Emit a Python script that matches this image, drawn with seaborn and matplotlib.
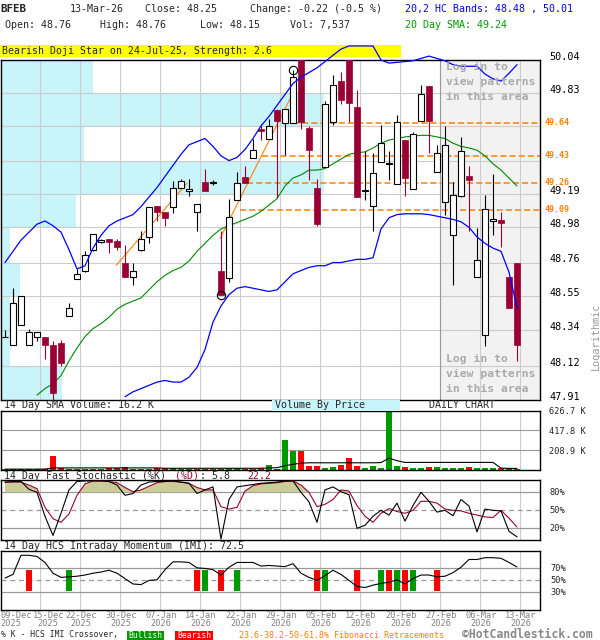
import numpy as np
import pandas as pd
import matplotlib
matplotlib.use("Agg")
import matplotlib.pyplot as plt
import matplotlib.transforms as mtransforms
from matplotlib.patches import Rectangle
from matplotlib.ticker import FixedLocator, NullLocator
import seaborn as sns

# ------------------------------------------------------------------ data
holidays = ["2025-12-25", "2026-01-01", "2026-01-19", "2026-02-16"]
dates = pd.bdate_range("2025-12-09", "2026-03-13", freq="C", holidays=holidays)

opens = [48.295, 48.25, 48.37, 48.25, 48.30, 48.30, 48.25, 48.26, 48.43, 48.66,
         48.71, 48.84, 48.89, 48.906, 48.895, 48.76, 48.67, 48.84, 48.92, 49.113,
         49.075, 49.105, 49.226, 49.21, 49.079, 49.263, 49.26, 48.706, 48.662, 49.152,
         49.294, 49.418, 49.601, 49.539, 49.72, 49.638, 49.638, 50.06, 49.606, 49.226,
         49.361, 49.647, 49.908, 50.06, 49.737, 49.21, 49.111, 49.393, 49.38, 49.253,
         49.533, 49.221, 49.65, 49.877, 49.33, 49.138, 48.933, 49.18, 49.305, 48.672,
         48.307, 49.02, 49.025, 48.672, 48.76]
highs = [48.34, 48.60, 48.55, 48.35, 48.33, 48.30, 48.27, 48.28, 48.51, 48.72,
         48.83, 48.94, 48.91, 48.91, 48.91, 48.87, 48.76, 48.96, 49.105, 49.113,
         49.075, 49.274, 49.282, 49.282, 49.125, 49.345, 49.28, 48.96, 49.157, 49.326,
         49.365, 49.539, 49.633, 49.664, 49.727, 49.727, 49.977, 50.08, 49.622, 49.282,
         49.78, 49.946, 49.963, 50.10, 49.846, 49.462, 49.445, 49.628, 49.462, 49.689,
         49.533, 49.581, 49.879, 49.877, 49.497, 49.618, 49.263, 49.55, 49.365, 48.975,
         49.184, 49.313, 49.075, 48.672, 48.76]
lows = [48.295, 48.25, 48.37, 48.25, 48.27, 48.16, 47.90, 48.12, 48.43, 48.66,
        48.70, 48.83, 48.88, 48.82, 48.84, 48.67, 48.62, 48.835, 48.885, 49.02,
        48.986, 49.069, 49.226, 49.18, 48.958, 49.209, 49.243, 48.557, 48.64, 49.152,
        49.257, 49.418, 49.528, 49.539, 49.163, 49.434, 49.638, 49.60, 49.28, 48.986,
        49.361, 49.627, 49.762, 49.647, 49.169, 49.152, 48.958, 49.393, 49.278, 49.253,
        49.174, 49.221, 49.65, 49.445, 49.33, 49.058, 48.62, 49.17, 48.958, 48.672,
        48.244, 48.933, 48.854, 48.478, 48.15]
closes = [48.30, 48.51, 48.55, 48.33, 48.33, 48.25, 47.95, 48.14, 48.48, 48.69,
          48.81, 48.94, 48.90, 48.889, 48.86, 48.67, 48.71, 48.906, 49.105, 49.075,
          49.038, 49.23, 49.274, 49.22, 49.125, 49.209, 49.265, 48.557, 49.042, 49.261,
          49.257, 49.47, 49.587, 49.622, 49.65, 49.727, 49.932, 49.645, 49.466, 49.002,
          49.758, 49.883, 49.783, 49.764, 49.169, 49.215, 49.324, 49.512, 49.384, 49.647,
          49.288, 49.57, 49.825, 49.654, 49.449, 49.50, 49.184, 49.462, 49.277, 48.773,
          49.094, 49.035, 49.01, 48.478, 48.25]
volume_k = [8, 10, 8, 8, 8, 10, 146, 16, 14, 14,
            14, 14, 14, 16, 16, 35, 14, 14, 14, 16,
            22, 20, 12, 12, 12, 12, 12, 14, 22, 22,
            10, 10, 22, 52, 12, 313, 198, 198, 45, 45,
            24, 35, 52, 125, 45, 24, 45, 24, 650, 45,
            35, 24, 24, 35, 35, 24, 24, 24, 35, 24,
            24, 24, 18, 18, 7.5]
vol_sma_k = [9, 9, 9, 9, 9, 10, 22, 22, 22, 22,
             22, 22, 22, 22, 22, 22, 22, 22, 22, 22,
             18, 18, 18, 18, 18, 18, 18, 18, 18, 18,
             18, 18, 18, 22, 24, 45, 60, 72, 76, 76,
             76, 76, 76, 76, 76, 76, 76, 78, 125, 98,
             80, 80, 80, 80, 80, 80, 80, 80, 80, 80,
             80, 80, 20, 17, 16.2]
upper_band = [48.76, 48.83, 48.90, 48.95, 49.00, 49.02, 48.99, 48.95, 48.84, 48.72,
              48.74, 48.85, 48.93, 48.99, 49.02, 49.04, 49.06, 49.11, 49.17, 49.23,
              49.30, 49.37, 49.44, 49.50, 49.52, 49.54, 49.49, 49.43, 49.40, 49.42,
              49.47, 49.54, 49.62, 49.68, 49.75, 49.82, 49.89, 49.93, 49.96, 49.99,
              50.03, 50.07, 50.11, 50.13, 50.13, 50.13, 50.13, 50.04, 50.02, 50.025,
              50.03, 50.035, 50.05, 50.065, 50.05, 50.035, 50.01, 50.00, 50.00, 50.00,
              49.95, 49.92, 49.905, 49.955, 50.01]
lower_band = [np.nan] * 15 + [
              47.93, 47.96, 47.98, 48.00, 48.02,
              48.03, 48.02, 48.02, 48.05, 48.11, 48.22, 48.39, 48.49, 48.56, 48.60,
              48.61, 48.60, 48.59, 48.58, 48.59, 48.64, 48.69, 48.71, 48.73, 48.74,
              48.74, 48.76, 48.76, 48.77, 48.78, 48.78, 48.79, 48.97, 49.04, 49.06,
              49.065, 49.065, 49.065, 49.06, 49.05, 49.04, 49.03, 49.015, 48.98, 48.92,
              48.88, 48.85, 48.83, 48.70, 48.48]
sma20 = [np.nan] * 4 + [
         47.94, 47.98, 48.01, 48.06, 48.15, 48.23,
         48.30, 48.35, 48.38, 48.42, 48.47, 48.50, 48.52, 48.54, 48.59, 48.64,
         48.68, 48.71, 48.73, 48.77, 48.83, 48.88, 48.93, 48.97, 48.99, 49.01,
         49.03, 49.05, 49.08, 49.12, 49.16, 49.24, 49.29, 49.31, 49.34, 49.34,
         49.35, 49.38, 49.41, 49.44, 49.45, 49.455, 49.48, 49.51, 49.53, 49.54,
         49.55, 49.555, 49.56, 49.56, 49.55, 49.54, 49.51, 49.49, 49.48, 49.466,
         49.43, 49.38, 49.34, 49.29, 49.24]
stoch_k = [97, 98, 98, 85, 80, 40, 8, 45, 84, 98,
           99, 99, 99, 98, 92, 75, 78, 92, 97, 98,
           98, 99, 97, 95, 78, 84, 89, 2, 68, 89,
           91, 93, 95, 96, 97, 99, 99, 80, 64, 30,
           84, 89, 81, 76, 20, 25, 40, 50, 42, 62,
           32, 58, 80, 65, 47, 50, 41, 68, 57, 14,
           52, 50, 49, 15, 5.8]
stoch_d = [97, 97, 97, 92, 86, 55, 36, 30, 44, 75,
           94, 99, 99, 98, 96, 88, 81, 84, 90, 96,
           98, 98, 97, 95, 88, 84, 84, 56, 52, 55,
           82, 91, 94, 95, 96, 98, 99, 92, 80, 56,
           60, 68, 84, 82, 58, 40, 30, 45, 53, 48,
           45, 50, 65, 65, 62, 52, 50, 49, 45, 42,
           39, 38, 50, 37, 22.2]
imi = [54, 60, 92, 92, 90, 80, 62, 55, 56, 57,
       59, 62, 64, 67, 62, 53, 44, 43, 50, 51,
       68, 81, 81, 80, 71, 70, 68, 59, 72, 80,
       80, 80, 74, 75, 74, 73, 78, 62, 55, 50,
       58, 67, 60, 50, 40, 38, 42, 45, 47, 51,
       44, 53, 59, 59, 56, 57, 63, 72, 85, 85,
       88, 88, 87, 80, 72.5]
bullish_idx = [8, 25, 29, 40, 47, 49, 51]
bearish_idx = [3, 24, 27, 39, 44, 48, 50, 54]
fib_levels = [49.64, 49.43, 49.26, 49.09]
fib_start_idx = [36.0, 32.1, 30.25, 29.4]
price_ticks = [47.91, 48.12, 48.34, 48.55, 48.76, 48.98, 49.19, 49.40, 49.62, 49.83, 50.04]
price_labels = ["47.91", "48.12", "48.34", "48.55", "48.76", "48.98", "49.19", "", "", "49.83", "50.04"]
vbp_share = [0.19, 0.03, 0.03, 0.06, 0.03, 0.235, 1.0, 0.257, 1.0, 0.285]  # bottom row -> top row
vol_ticks = [208.9, 417.8, 626.7]
trend_a = ([13.9, 22.75], [48.743, 49.257])
trend_b = ([26.9, 36.0], [48.912, 49.83])

# ------------------------------------------------------------------ style
sns.set_theme(style="white")
plt.rcParams["font.family"] = ["DejaVu Sans Mono", "DejaVu Sans"]

CRIM = "#990033"
GREEN = "#009900"
RED = "#ff0000"
ORANGE = "#ff8000"
CYAN = "#c8f4fa"
GRID = "#cccccc"
DGRID = "#999999"

W, H = 600, 640


def fx(p):
    return p / W


def fy(p):
    return 1 - p / H


def rect(l, t, r, b):
    return [fx(l), fy(b), (r - l) / W, (b - t) / H]


fig = plt.figure(figsize=(6, 6.4), dpi=100, facecolor="white")
ax = fig.add_axes(rect(0.5, 60, 540, 400))
axv = fig.add_axes(rect(0.5, 410.5, 540, 470))
axs = fig.add_axes(rect(0.5, 480.3, 540, 540.3))
axi = fig.add_axes(rect(0.5, 550.5, 540, 610.3))

n = len(closes)
x = np.arange(n)
o, h, l, c = map(np.array, (opens, highs, lows, closes))
up = c >= o
XL = ((0.5 - 5) / 8, (540 - 5) / 8)
grid_x = [i + 0.375 for i in range(4, n, 5)]

for a in (ax, axv, axs, axi):
    a.set_facecolor("white")
    a.set_xlim(*XL)
    for s in a.spines.values():
        s.set_color("black")
        s.set_linewidth(1.0)
    a.tick_params(left=False, right=False, bottom=False, top=False,
                  labelleft=False, labelbottom=False)
    for gx in grid_x:
        a.axvline(gx, color=GRID, lw=0.8, zorder=0.5)

# ------------------------------------------------------------- main panel
ax.set_yscale("log")
ax.set_ylim(price_ticks[0], price_ticks[-1])
ax.yaxis.set_major_locator(FixedLocator(price_ticks))
ax.yaxis.set_minor_locator(NullLocator())
ax.tick_params(which="both", left=False, right=False, labelleft=False, labelright=False)
for t in price_ticks[1:-1]:
    ax.axhline(t, color=GRID, lw=0.8, zorder=0.5)

# log-in shaded area
shade_x = 54.375
ax.add_patch(Rectangle((shade_x, 0), XL[1] - shade_x, 1, transform=ax.get_xaxis_transform(),
                       facecolor="#f2f2f2", edgecolor="none", zorder=0.1))
ax.axvline(shade_x, color=DGRID, lw=0.8, zorder=0.6)

# volume by price
vbp_w = np.array(vbp_share) * (323 / 8)
lo_edges = np.array(price_ticks[:-1])
hi_edges = np.array(price_ticks[1:])
ax.barh(lo_edges, vbp_w, height=hi_edges - lo_edges, left=XL[0], align="edge",
        color=CYAN, edgecolor="none", zorder=0.3)

# fibonacci
for lev, xs in zip(fib_levels, fib_start_idx):
    ax.hlines(lev, xs, XL[1], colors=ORANGE, linestyles=(0, (4, 2)), lw=1.1, zorder=2)
ax.plot(*trend_a, color=ORANGE, lw=0.8, zorder=2)
ax.plot(*trend_b, color=ORANGE, lw=0.8, zorder=2)

# bands and SMA
dfb = pd.DataFrame({"x": x, "upper": upper_band, "lower": lower_band, "sma": sma20})
sns.lineplot(data=dfb, x="x", y="upper", ax=ax, color="#0000ff", lw=0.9, zorder=6)
ax.lines[-1].set_clip_on(False)
sns.lineplot(data=dfb.dropna(subset=["lower"]), x="x", y="lower", ax=ax, color="#0000ff", lw=0.9, zorder=6)
sns.lineplot(data=dfb.dropna(subset=["sma"]), x="x", y="sma", ax=ax, color="#008800", lw=0.8, zorder=2.5)

# candles
ax.vlines(x[up], l[up], h[up], color="black", lw=0.8, zorder=3)
ax.vlines(x[~up], l[~up], h[~up], color=CRIM, lw=0.8, zorder=3)
body_lo = np.minimum(o, c)
body_h = np.maximum(np.abs(c - o), 0.004)
ax.bar(x[up], body_h[up], bottom=body_lo[up], width=0.75, facecolor="white",
       edgecolor="black", lw=0.8, zorder=4)
ax.bar(x[~up], body_h[~up], bottom=body_lo[~up], width=0.75, facecolor=CRIM,
       edgecolor=CRIM, lw=0.5, zorder=4)
ax.plot([27], [l[27]], marker="o", ms=6, mfc="none", mec="black", mew=0.8, zorder=5)
ax.plot([36], [h[36]], marker="o", ms=6, mfc="none", mec="black", mew=0.8, zorder=5)
ax.set_xlabel("")
ax.set_ylabel("")

# right-hand price labels
ytr = mtransforms.offset_copy(ax.get_yaxis_transform(), fig=fig, y=2.2, units="points")
for t, lab in zip(price_ticks, price_labels):
    if lab:
        ax.text(1 + 9 / 539.5, t, lab, transform=ytr, fontsize=7.3, va="center",
                ha="left", color="black", clip_on=False)
for lev in fib_levels:
    ax.text(1 + 5 / 539.5, lev, f"{lev:.2f}", transform=ax.get_yaxis_transform(),
            fontsize=6, fontweight="bold", va="center", ha="left", color=ORANGE, clip_on=False)

# banner
ax.add_patch(Rectangle((-0.5 / 539.5, (400 - 57) / 340), 401 / 539.5, 12 / 340,
                       transform=ax.transAxes, facecolor="#ffff00", edgecolor="none",
                       clip_on=False, zorder=1))
ax.text(2 / 539.5, (400 - 51) / 340, "Bearish Doji Star on 24-Jul-25, Strength: 2.6",
        transform=ax.transAxes, fontsize=7.1, va="center", ha="left", clip_on=False, zorder=1.5)

# ------------------------------------------------------------- volume panel
axv.set_ylim(0, 626.7)
for t in vol_ticks[:-1]:
    axv.axhline(t, color=DGRID, lw=0.8, zorder=0.6)
vcols = [GREEN if u else RED for u in up]
axv.bar(x, volume_k, width=0.75, color=vcols, edgecolor="none", zorder=2)
dfv = pd.DataFrame({"x": x, "vsma": vol_sma_k})
sns.lineplot(data=dfv, x="x", y="vsma", ax=axv, color="black", lw=0.8, zorder=3)
axv.set_xlabel("")
axv.set_ylabel("")
for t in vol_ticks:
    axv.text(1 + 9 / 539.5, t, f"{t:.1f} K", transform=mtransforms.offset_copy(
        axv.get_yaxis_transform(), fig=fig, y=-1.0, units="points"),
        fontsize=6.2, va="center", ha="left", clip_on=False)

# ------------------------------------------------------------- stochastic
axs.set_ylim(0, 100)
for t in (80, 20):
    axs.axhline(t, color=DGRID, lw=0.9, zorder=0.6)
axs.axhline(50, color=DGRID, lw=0.9, ls=(0, (4, 3)), zorder=0.6)
sd = np.array(stoch_d)
axs.fill_between(x, sd, 80, where=sd >= 80, interpolate=True, color="#cccc99", lw=0, zorder=1)
dfs = pd.DataFrame({"x": x, "k": stoch_k, "d": stoch_d})
sns.lineplot(data=dfs, x="x", y="d", ax=axs, color=CRIM, lw=0.8, zorder=3)
sns.lineplot(data=dfs, x="x", y="k", ax=axs, color="black", lw=0.8, zorder=4)
axs.set_xlabel("")
axs.set_ylabel("")
for t in (80, 50, 20):
    axs.text(1 + 9 / 539.5, t, f"{t}%", transform=axs.get_yaxis_transform(),
             fontsize=6.2, va="center", ha="left", clip_on=False)

# ------------------------------------------------------------- IMI
axi.set_ylim(0, 100)
for t in (70, 30):
    axi.axhline(t, color=DGRID, lw=0.9, zorder=0.6)
axi.axhline(50, color=DGRID, lw=0.9, ls=(0, (4, 3)), zorder=0.6)
axi.bar(bullish_idx, 35, bottom=32, width=0.75, color=GREEN, edgecolor="none", zorder=2)
axi.bar(bearish_idx, 35, bottom=32, width=0.75, color=RED, edgecolor="none", zorder=2)
dfi = pd.DataFrame({"x": x, "imi": imi})
sns.lineplot(data=dfi, x="x", y="imi", ax=axi, color="black", lw=0.8, zorder=4)
axi.set_xlabel("")
axi.set_ylabel("")
for t in (70, 50, 30):
    axi.text(1 + 10 / 539.5, t, f"{t}%", transform=axi.get_yaxis_transform(),
             fontsize=6.2, va="center", ha="left", clip_on=False)

# date labels
xtr = axi.get_xaxis_transform()
lab_idx = [0] + list(range(4, n, 5))
for k, i in enumerate(lab_idx):
    d = dates[i]
    if k == 0:
        xp, ha = XL[0], "left"
    elif k == 1:
        xp, ha = i + 1.4, "center"
    else:
        xp, ha = i + 0.5, "center"
    axi.text(xp, -(616 - 610.3) / 59.8, d.strftime("%d-%b"), transform=xtr, ha=ha,
             va="center", fontsize=6.2, color="#808080", clip_on=False)
    axi.text(xp, -(624 - 610.3) / 59.8, d.strftime("%Y"), transform=xtr, ha=ha,
             va="center", fontsize=6.2, color="#808080", clip_on=False)

# ------------------------------------------------------------- texts
def T(px, py, s, **kw):
    kw.setdefault("fontsize", 7.2)
    kw.setdefault("va", "center")
    kw.setdefault("ha", "left")
    return fig.text(fx(px), fy(py), s, **kw)


T(0, 9, "BFEB", fontweight="bold", fontsize=7.8)
T(70, 9, "13-Mar-26")
T(145, 9, "Close: 48.25")
T(250, 9, "Change: -0.22 (-0.5 %)")
T(405, 9, "20,2 HC Bands: 48.48 , 50.01", color="#0000ff")
T(5, 25, "Open: 48.76")
T(100, 25, "High: 48.76")
T(200, 25, "Low: 48.15")
T(290, 25, "Vol: 7,537")
T(405, 25, "20 Day SMA: 49.24", color=GREEN)

T(4, 405.5, "14 Day SMA Volume: 16.2 K")
fig.patches.append(Rectangle((fx(272), fy(411)), (400 - 272) / W, 11 / H, transform=fig.transFigure,
                             facecolor=CYAN, edgecolor="none", zorder=1))
T(275, 405.5, "Volume By Price")
T(462, 405.5, "DAILY CHART", ha="center")

T(4, 476, "14 Day Fast Stochastic (%K)", fontsize=7.1)
T(175, 476, "(%D)", color=CRIM, fontsize=7.1)
T(200, 476, ": 5.8", fontsize=7.1)
T(247, 476, "22.2", color=CRIM, fontsize=7.1)
T(4, 546, "14 Day HCS Intraday Momentum (IMI): 72.5")

for yy, s in ((67, "Log in to"), (82, "view patterns"), (97, "in this area"),
              (359, "Log in to"), (374, "view patterns"), (389, "in this area")):
    T(446, yy, s, color="#aaaaaa", fontweight="bold", fontsize=8.2)

T(596, 336, "Logarithmic", rotation=90, ha="center", color="#999999", fontsize=7.4)

# footer
T(1, 635, "% K - HCS IMI Crossover,", fontsize=5.8)
fig.patches.append(Rectangle((fx(127), fy(640)), 37 / W, 9.5 / H, transform=fig.transFigure,
                             facecolor=GREEN, edgecolor="none", zorder=1))
T(145.5, 635, "Bullish", ha="center", color="white", fontsize=5.8)
fig.patches.append(Rectangle((fx(175), fy(640)), 38 / W, 9.5 / H, transform=fig.transFigure,
                             facecolor=RED, edgecolor="none", zorder=1))
T(194, 635, "Bearish", ha="center", color="white", fontsize=5.8)
T(239, 635, "23.6-38.2-50-61.8% Fibonacci Retracements", color=ORANGE, fontsize=6)
T(462, 634, "\u00a9HotCandlestick.com", color="#888888", fontsize=8.3, fontweight="bold")

fig.savefig("out.png", dpi=100, facecolor="white")
